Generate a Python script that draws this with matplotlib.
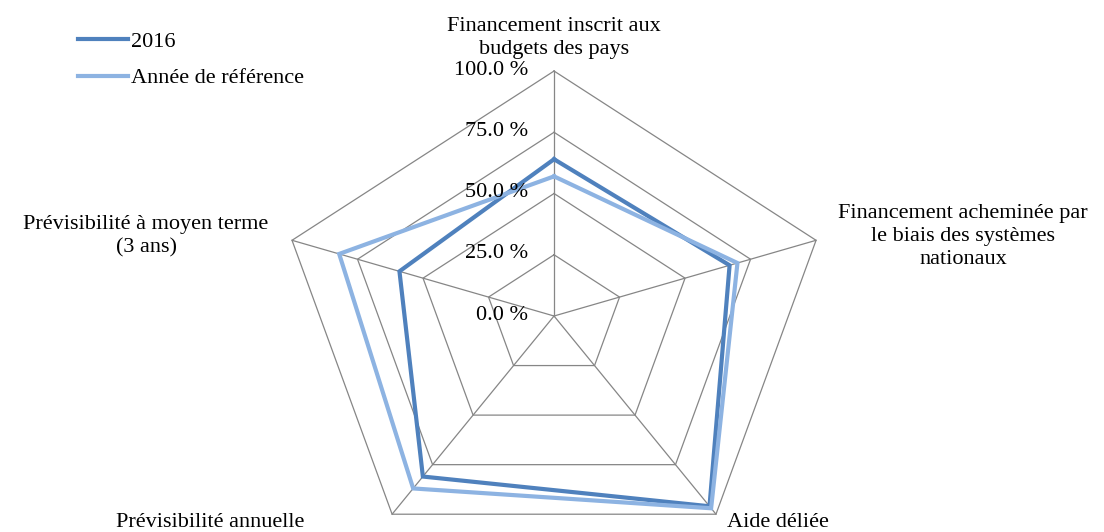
import numpy as np
import matplotlib.pyplot as plt

categories = [
    "Financement inscrit aux\nbudgets des pays",
    "Financement acheminée par\nle biais des systèmes\nnationaux",
    "Aide déliée",
    "Prévisibilité annuelle",
    "Prévisibilité à moyen terme\n(3 ans)",
]
val_2016 = [64, 67, 96, 81, 59]
val_ref = [57, 70, 97, 87, 82]
levels = [0, 25, 50, 75, 100]

plt.rcParams['font.family'] = ['Liberation Serif', 'DejaVu Serif']
plt.rcParams['font.size'] = 16

DARK = '#4F81BD'
LIGHT = '#8DB3E2'
GRID = '#868686'

fig = plt.figure(figsize=(11.04, 5.32), dpi=100)
ax = fig.add_axes([0.2523, -0.0545, 0.4991, 0.921], projection='polar')
ax.set_aspect('auto')
ax.set_theta_offset(np.pi / 2)
ax.set_theta_direction(-1)
ax.set_ylim(0, 100)
ax.grid(False)
ax.spines['polar'].set_visible(False)
ax.set_xticks([])
ax.set_yticks([])
ax.patch.set_visible(False)

n = len(categories)
angles = np.linspace(0, 2 * np.pi, n, endpoint=False)
closed = np.append(angles, angles[0])

# pentagon grid and spokes
for lv in levels[1:]:
    ax.plot(closed, [lv] * (n + 1), color=GRID, lw=0.9, clip_on=False)
for a in angles:
    ax.plot([a, a], [0, 100], color=GRID, lw=0.9, clip_on=False)

ax.plot(closed, val_2016 + val_2016[:1], color=DARK, lw=3, label='2016',
        solid_joinstyle='miter', clip_on=False)
ax.plot(closed, val_ref + val_ref[:1], color=LIGHT, lw=3,
        label='Année de référence', solid_joinstyle='miter', clip_on=False)

# radial value labels along the top spoke
for lv in levels:
    ax.annotate(f'{lv:.1f} %', xy=(0, lv), xytext=(-26, 1),
                textcoords='offset pixels', ha='right', va='center')

# category labels
offsets = [(0, 12), (147, 4), (11, -13), (-182, -13), (-146, 4)]
aligns = [('center', 'bottom'), ('center', 'center'), ('left', 'baseline'),
          ('center', 'baseline'), ('center', 'center')]
for a, lab, off, (h, v) in zip(angles, categories, offsets, aligns):
    ax.annotate(lab, xy=(a, 100), xytext=off, textcoords='offset pixels',
                ha=h, va=v, multialignment='center', linespacing=1.3)

fig.legend(loc='upper left', bbox_to_anchor=(0.063, 0.958), frameon=False,
           handlelength=2.25, handletextpad=0.12, labelspacing=0.72,
           borderaxespad=0)

plt.savefig('out.png', dpi=100)
plt.close()
